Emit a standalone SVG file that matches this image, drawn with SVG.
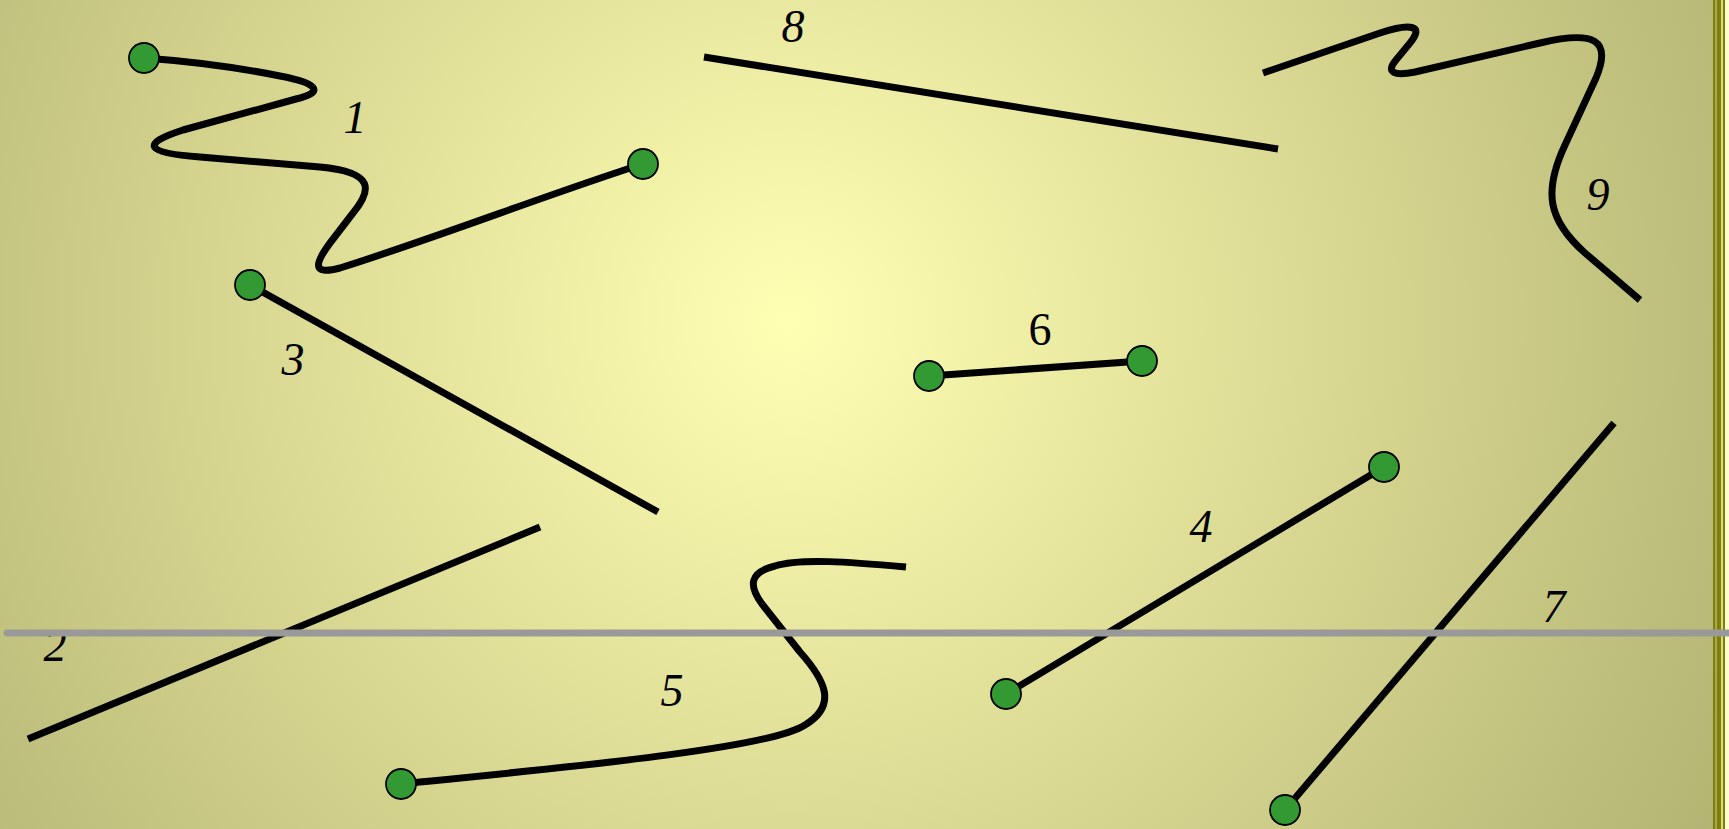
<svg xmlns="http://www.w3.org/2000/svg" width="1729" height="829" viewBox="0 0 1729 829">
<defs>
<radialGradient id="bg" cx="790" cy="320" r="1100" gradientUnits="userSpaceOnUse">
<stop offset="0" stop-color="#ffffb4"/>
<stop offset="1" stop-color="#b0b070"/>
</radialGradient>
<style>
.edge{fill:none;stroke:#000;stroke-width:7;stroke-linecap:butt;stroke-linejoin:round}
.node{fill:#339933;stroke:#000;stroke-width:1.8}
.lbl{font-family:"Liberation Serif","Times New Roman",serif;font-size:46px;font-style:italic;fill:#000;text-anchor:middle}
.up{font-style:normal}
</style>
</defs>
<rect x="0" y="0" width="1713" height="829" fill="url(#bg)"/>
<rect x="1713" y="0" width="16" height="829" fill="#ffffd0"/>
<rect x="1713" y="0" width="2" height="829" fill="#808000"/>
<rect x="1715" y="0" width="2" height="829" fill="#a5a56a"/>
<rect x="1717" y="0" width="4.3" height="829" fill="#808000"/>
<rect x="1722.7" y="0" width="2.3" height="829" fill="#808000"/>
<g id="connectors">
<path id="e1" class="edge" d="M144,58 C200,62 250,70 280,76 C322,84 322,93 296,99 L183,130 Q118,151 200,157 L320,167 C375,172 372,190 353,213 L330,243 C316,262 310,276 340,268 C430,240 560,190 643,164"/>
<path id="e2" class="edge" d="M540,527 L28,739"/>
<path id="e3" class="edge" d="M250,285 L658,512"/>
<path id="e4" class="edge" d="M1384,467 L1006,694"/>
<path id="e5" class="edge" d="M401,784 C580,766 770,748 805,725 C838,705 825,680 800,652 L762,604 C748,585 750,572 775,566 C800,558 850,562 906,567"/>
<path id="e6" class="edge" d="M929,376 L1142,361"/>
<path id="e7" class="edge" d="M1614,423 L1285,810"/>
<path id="e8" class="edge" d="M704,57 L1278,149"/>
<path id="e9" class="edge" d="M1263,73 L1380,33 C1410,23 1425,25 1410,43 L1396,60 C1385,73 1395,76 1415,72 L1540,43 C1595,30 1612,40 1596,78 L1565,145 C1543,192 1548,220 1585,253 L1640,300"/>
</g>
<g id="labels">
<text class="lbl" x="355" y="133">1</text>
<text class="lbl" x="55" y="661">2</text>
<text class="lbl" x="293" y="375">3</text>
<text class="lbl" x="1201" y="542">4</text>
<text class="lbl" x="672" y="706">5</text>
<text class="lbl up" x="1040" y="345">6</text>
<text class="lbl" x="1554" y="622">7</text>
<text class="lbl" x="793" y="42">8</text>
<text class="lbl" x="1598" y="210">9</text>
</g>
<g id="n1a"><circle class="node" cx="144" cy="58" r="15"/></g>
<g id="n1b"><circle class="node" cx="643" cy="164" r="15"/></g>
<g id="n3"><circle class="node" cx="250" cy="285" r="15"/></g>
<g id="n6a"><circle class="node" cx="929" cy="376" r="15"/></g>
<g id="n6b"><circle class="node" cx="1142" cy="361" r="15"/></g>
<g id="n4a"><circle class="node" cx="1384" cy="467" r="15"/></g>
<g id="n4b"><circle class="node" cx="1006" cy="694" r="15"/></g>
<g id="n5"><circle class="node" cx="401" cy="784" r="15"/></g>
<g id="n7"><circle class="node" cx="1285" cy="810" r="15"/></g>
<g id="divider"><line x1="7" y1="633" x2="1729" y2="633" stroke="#999999" stroke-width="7" stroke-linecap="round"/></g>
</svg>
